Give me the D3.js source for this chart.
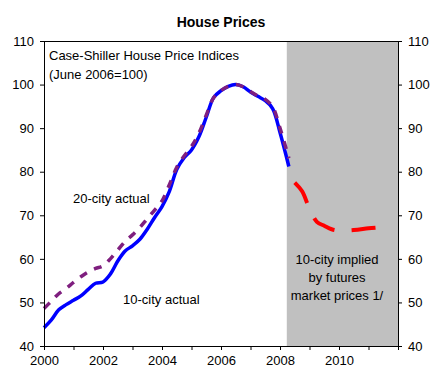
<!DOCTYPE html>
<html>
<head>
<meta charset="utf-8">
<script src="https://cdn.jsdelivr.net/npm/d3@7"></script>
<style>
  body { margin: 0; background: #fff; }
  text { font-family: "Liberation Sans", Arial, sans-serif; fill: #000; }
</style>
</head>
<body>
<div id="chart"></div>
<script>
// quarterly dates (decimal years)
var actualDates = [2000.00, 2000.25, 2000.50, 2000.75, 2001.00, 2001.25, 2001.50, 2001.75,
  2002.00, 2002.25, 2002.50, 2002.75, 2003.00, 2003.25, 2003.50, 2003.75,
  2004.00, 2004.25, 2004.50, 2004.75, 2005.00, 2005.25, 2005.50, 2005.75,
  2006.00, 2006.25, 2006.50, 2006.75, 2007.00, 2007.25, 2007.50, 2007.75,
  2008.00, 2008.30]
var city10 = [44.2, 46.0, 48.3, 49.5, 50.5, 51.5, 53.0, 54.4,
  54.7, 56.5, 59.5, 61.8, 63.0, 64.5, 66.8, 69.5,
  72.0, 75.5, 80.5, 83.2, 85.0, 88.0, 92.5, 97.0,
  98.6, 99.6, 100.0, 99.5, 98.3, 97.3, 96.3, 94.5,
  89.0, 81.2]
var city20 = [48.6, 50.3, 52.0, 53.2, 54.6, 55.9, 57.0, 57.8,
  58.4, 60.0, 62.0, 64.0, 65.5, 67.2, 69.2, 71.2,
  73.3, 77.0, 81.0, 83.6, 85.8, 88.8, 93.0, 97.0,
  98.6, 99.6, 100.0, 99.5, 98.4, 97.4, 96.6, 94.9,
  90.0, 83.1]
var futuresDates = [2008.50, 2008.75, 2009.00, 2009.25, 2009.50, 2009.75, 2010.00, 2010.50, 2011.00, 2011.33]
var futures10 = [77.5, 75.5, 71.5, 68.5, 67.6, 66.8, 66.5, 66.6, 67.0, 67.2]
var forecastStart = 2008.23
var yTicks = [40, 50, 60, 70, 80, 90, 100, 110]
var xTicks = [2000, 2001, 2002, 2003, 2004, 2005, 2006, 2007, 2008, 2009, 2010, 2011, 2012]

var width = 443, height = 378
var margin = {top: 41, right: 45, bottom: 32, left: 44}
var w = width - margin.left - margin.right
var h = height - margin.top - margin.bottom

var svg = d3.select('#chart').append('svg')
  .attr('width', width)
  .attr('height', height)

svg.append('text')
  .attr('x', 221)
  .attr('y', 27)
  .attr('text-anchor', 'middle')
  .style('font-size', '14px')
  .style('font-weight', 'bold')
  .text('House Prices')

var g = svg.append('g')
  .attr('transform', 'translate(' + margin.left + ',' + margin.top + ')')

var x = d3.scaleLinear().domain([2000, 2012]).range([0, w])
var y = d3.scaleLinear().domain([40, 110]).range([h, 0])

// shaded forecast region
g.append('rect')
  .attr('x', x(forecastStart))
  .attr('y', 0)
  .attr('width', x(2012) - x(forecastStart))
  .attr('height', h)
  .attr('fill', '#c0c0c0')

var line = d3.line()
  .x(function(d) { return x(d[0]) })
  .y(function(d) { return y(d[1]) })
  .curve(d3.curveCatmullRom.alpha(0.5))

g.append('path')
  .datum(d3.zip(actualDates, city10))
  .attr('fill', 'none')
  .attr('stroke', '#0000ff')
  .attr('stroke-width', 3.5)
  .attr('d', line)

g.append('path')
  .datum(d3.zip(actualDates, city20))
  .attr('fill', 'none')
  .attr('stroke', '#7f1f7f')
  .attr('stroke-width', 3.5)
  .attr('stroke-dasharray', '8,8')
  .attr('d', line)

g.append('path')
  .datum(d3.zip(futuresDates, futures10))
  .attr('fill', 'none')
  .attr('stroke', '#ff0000')
  .attr('stroke-width', 4)
  .attr('stroke-dasharray', '24,17')
  .attr('d', line)

// frame top
g.append('line')
  .attr('x1', 0).attr('x2', w)
  .attr('y1', 0.5).attr('y2', 0.5)
  .attr('stroke', '#000')

var fmtX = function(d) { return (d % 2 === 0 && d < 2012) ? d : '' }

var xAxis = g.append('g')
  .attr('transform', 'translate(0,' + h + ')')
  .call(d3.axisBottom(x).tickValues(xTicks).tickFormat(fmtX).tickSize(4).tickPadding(6))
var yAxisL = g.append('g')
  .call(d3.axisLeft(y).tickValues(yTicks).tickSize(4).tickPadding(6))
var yAxisR = g.append('g')
  .attr('transform', 'translate(' + w + ',0)')
  .call(d3.axisRight(y).tickValues(yTicks).tickSize(4).tickPadding(6))

;[xAxis, yAxisL, yAxisR].forEach(function(a) {
  a.select('.domain').attr('stroke', '#000')
  a.selectAll('.tick line').attr('stroke', '#000')
  a.selectAll('text').style('font-size', '13px').style('font-family', '"Liberation Sans", Arial, sans-serif')
})

// annotations
var notes = [
  {t: 'Case-Shiller House Price Indices', x: 49, y: 60, a: 'start'},
  {t: '(June 2006=100)', x: 49, y: 79, a: 'start'},
  {t: '20-city actual', x: 73, y: 203, a: 'start'},
  {t: '10-city actual', x: 123, y: 304, a: 'start'},
  {t: '10-city implied', x: 337, y: 264, a: 'middle'},
  {t: 'by futures', x: 337, y: 282, a: 'middle'},
  {t: 'market prices 1/', x: 337, y: 300, a: 'middle'}
]
svg.selectAll('text.note')
  .data(notes)
  .enter().append('text')
  .attr('class', 'note')
  .attr('x', function(d) { return d.x })
  .attr('y', function(d) { return d.y })
  .attr('text-anchor', function(d) { return d.a })
  .style('font-size', '13px')
  .text(function(d) { return d.t })
</script>
</body>
</html>
